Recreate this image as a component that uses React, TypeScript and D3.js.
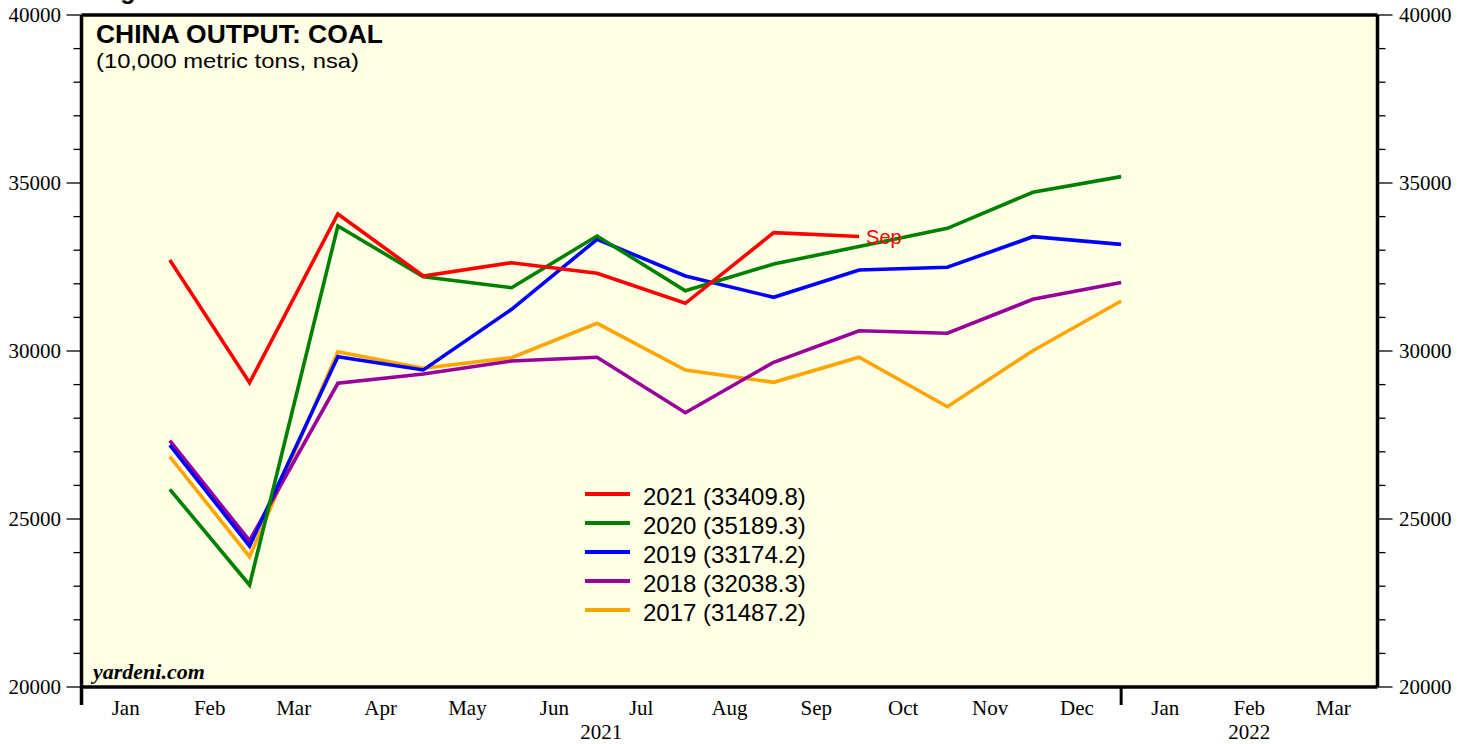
import React from "react";
import * as d3 from "d3";

const monthNames = ["Jan", "Feb", "Mar", "Apr", "May", "Jun", "Jul", "Aug", "Sep", "Oct", "Nov", "Dec"];
const axisMonths = ["Jan", "Feb", "Mar", "Apr", "May", "Jun", "Jul", "Aug", "Sep", "Oct", "Nov", "Dec", "Jan", "Feb", "Mar"];
const yTicks = [20000, 25000, 30000, 35000, 40000];

const values2021 = [32708, 29057, 34077, 32232, 32628, 32313, 31420, 33521, 33409.8];
const values2020 = [25884, 23036, 33720, 32211, 31884, 33423, 31795, 32589, 33110, 33652, 34723, 35189.3];
const values2019 = [27202, 24196, 29830, 29435, 31241, 33324, 32232, 31598, 32411, 32491, 33402, 33174.2];
const values2018 = [27330, 24354, 29039, 29315, 29702, 29812, 28164, 29664, 30604, 30527, 31539, 32038.3];
const values2017 = [26854, 23878, 29979, 29485, 29801, 30824, 29435, 29068, 29813, 28342, 30009, 31487.2];

const seriesNames = ["2021", "2020", "2019", "2018", "2017"];
const seriesColors = ["#FF0000", "#008000", "#0000FF", "#990099", "#FFA500"];
const seriesValues = [values2021, values2020, values2019, values2018, values2017];

const W = 1471;
const H = 744;
const L = 81.5;
const R = 1377.5;
const T = 15;
const B = 687;

const SERIF = "'Liberation Serif', 'Times New Roman', serif";
const SANS = "'Liberation Sans', Arial, Helvetica, sans-serif";

export default function App() {
  const x = d3.scaleTime().domain([new Date(2021, 0, 1), new Date(2022, 3, 1)]).range([L, R]);
  const y = d3.scaleLinear().domain([20000, 40000]).range([B, T]);
  const minorTicks = d3.range(20000, 40001, 1000);

  const line = d3
    .line<number>()
    .x((_, i) => x(new Date(2021, i + 1, 1)))
    .y((d) => y(d));

  const drawOrder = [4, 3, 2, 1, 0];
  const last2021 = values2021.length - 1;

  return (
    <svg width={W} height={H} style={{ position: "absolute", left: 0, top: 0, display: "block" }}>
      <rect x={0} y={0} width={W} height={H} fill="#ffffff" />
      <text x={98} y={-1} fontFamily={SANS} fontWeight="bold" fontSize={25} fill="#000">
        Figure 1.
      </text>
      <rect x={L} y={T} width={R - L} height={B - T} fill="#FFFFE5" />

      {/* minor & major ticks */}
      {minorTicks.map((v) => {
        const major = v % 5000 === 0;
        return (
          <g key={v}>
            <line x1={L - (major ? 15 : 8)} x2={L} y1={y(v)} y2={y(v)} stroke="#000" strokeWidth={1.3} />
            <line x1={R} x2={R + (major ? 15 : 8)} y1={y(v)} y2={y(v)} stroke="#000" strokeWidth={1.3} />
          </g>
        );
      })}
      {yTicks.map((v) => (
        <g key={"l" + v}>
          <text x={61} y={y(v)} dy="0.34em" textAnchor="end" fontFamily={SERIF} fontSize={21} fill="#000">
            {v}
          </text>
          <text x={1399} y={y(v)} dy="0.34em" textAnchor="start" fontFamily={SERIF} fontSize={21} fill="#000">
            {v}
          </text>
        </g>
      ))}

      {/* month labels */}
      {axisMonths.map((m, i) => {
        const a = x(new Date(2021, i, 1));
        const b = x(new Date(2021, i + 1, 1));
        return (
          <text key={"m" + i} x={(a + b) / 2} y={715} textAnchor="middle" fontFamily={SERIF} fontSize={21} fill="#000">
            {m}
          </text>
        );
      })}
      <text
        x={(x(new Date(2021, 0, 1)) + x(new Date(2022, 0, 1))) / 2}
        y={739}
        textAnchor="middle"
        fontFamily={SERIF}
        fontSize={21}
        fill="#000"
      >
        2021
      </text>
      <text
        x={(x(new Date(2022, 0, 1)) + x(new Date(2022, 3, 1))) / 2}
        y={739}
        textAnchor="middle"
        fontFamily={SERIF}
        fontSize={21}
        fill="#000"
      >
        2022
      </text>
      <line x1={x(new Date(2022, 0, 1))} x2={x(new Date(2022, 0, 1))} y1={B} y2={705} stroke="#000" strokeWidth={3} />

      {/* series */}
      {drawOrder.map((k) => (
        <path
          key={seriesNames[k]}
          d={line(seriesValues[k]) || ""}
          fill="none"
          stroke={seriesColors[k]}
          strokeWidth={3.6}
          strokeLinejoin="miter"
        />
      ))}
      <text
        x={x(new Date(2021, last2021 + 1, 1)) + 7}
        y={y(values2021[last2021])}
        dy="0.36em"
        fontFamily={SANS}
        fontSize={20}
        fill="#FF0000"
      >
        {monthNames[last2021]}
      </text>

      {/* frame */}
      <line x1={L} x2={L} y1={T} y2={705} stroke="#000" strokeWidth={3.5} />
      <line x1={R} x2={R} y1={T} y2={B} stroke="#000" strokeWidth={3.5} />
      <line x1={L} x2={R} y1={T} y2={T} stroke="#000" strokeWidth={3.5} />
      <line x1={L} x2={R} y1={B} y2={B} stroke="#000" strokeWidth={3.5} />

      {/* titles */}
      <text x={96} y={43} fontFamily={SANS} fontWeight="bold" fontSize={25} fill="#000" textLength={287} lengthAdjust="spacingAndGlyphs">
        CHINA OUTPUT: COAL
      </text>
      <text x={96} y={68} fontFamily={SANS} fontSize={21} fill="#000" textLength={263} lengthAdjust="spacingAndGlyphs">
        (10,000 metric tons, nsa)
      </text>
      <text x={93} y={679} fontFamily={SERIF} fontWeight="bold" fontStyle="italic" fontSize={22} fill="#000">
        yardeni.com
      </text>

      {/* legend */}
      {seriesNames.map((n, i) => {
        const ly = 494 + i * 29;
        const vals = seriesValues[i];
        return (
          <g key={"lg" + n}>
            <line x1={585} x2={630} y1={ly} y2={ly} stroke={seriesColors[i]} strokeWidth={4} />
            <text x={643} y={ly + 10.5} fontFamily={SANS} fontSize={24} fill="#000">
              {`${n} (${vals[vals.length - 1].toFixed(1)})`}
            </text>
          </g>
        );
      })}
    </svg>
  );
}
